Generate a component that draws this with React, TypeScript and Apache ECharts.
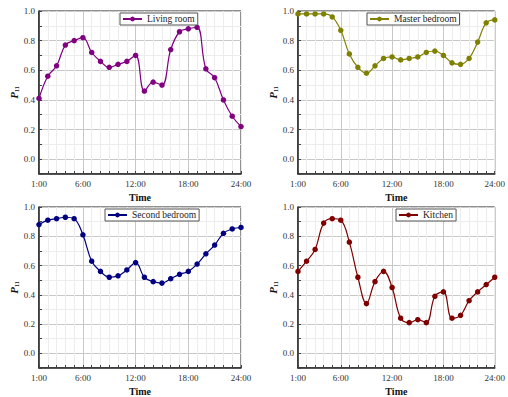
import React, { useEffect, useRef } from "react";
import * as echarts from "echarts";

const hours = [1, 2, 3, 4, 5, 6, 7, 8, 9, 10, 11, 12, 13, 14, 15, 16, 17, 18, 19, 20, 21, 22, 23, 24];
const xTickLabels = [1, 6, 12, 18, 24];
const yTickLabels = [0, 0.2, 0.4, 0.6, 0.8, 1.0];

const roomNames = ["Living room", "Master bedroom", "Second bedroom", "Kitchen"];
const livingRoom = [0.41, 0.56, 0.63, 0.77, 0.8, 0.82, 0.72, 0.66, 0.62, 0.64, 0.66, 0.7, 0.46, 0.52, 0.5, 0.74, 0.86, 0.88, 0.89, 0.61, 0.55, 0.4, 0.29, 0.22];
const masterBedroom = [0.98, 0.98, 0.98, 0.98, 0.96, 0.87, 0.71, 0.62, 0.58, 0.63, 0.68, 0.69, 0.67, 0.68, 0.69, 0.72, 0.73, 0.7, 0.65, 0.64, 0.68, 0.79, 0.92, 0.94];
const secondBedroom = [0.88, 0.91, 0.92, 0.93, 0.92, 0.81, 0.63, 0.56, 0.52, 0.53, 0.57, 0.62, 0.52, 0.49, 0.48, 0.51, 0.54, 0.56, 0.61, 0.68, 0.74, 0.82, 0.85, 0.86];
const kitchen = [0.56, 0.63, 0.71, 0.89, 0.92, 0.91, 0.76, 0.52, 0.34, 0.49, 0.56, 0.45, 0.24, 0.21, 0.23, 0.21, 0.39, 0.42, 0.24, 0.26, 0.36, 0.42, 0.47, 0.52];
const roomValues = [livingRoom, masterBedroom, secondBedroom, kitchen];
const colors = ["#800080", "#808000", "#000080", "#800000"];

const grids = [
  { left: 39, top: 11 },
  { left: 298, top: 11 },
  { left: 39, top: 207 },
  { left: 298, top: 207 },
];
const legendPos = [
  { left: 120, top: 13 },
  { left: 367, top: 13 },
  { left: 105, top: 209 },
  { left: 396, top: 209 },
];

const FONT = "Liberation Serif";

export default function App() {
  const ref = useRef<HTMLDivElement>(null);
  useEffect(() => {
    if (!ref.current) return;
    const chart = echarts.init(ref.current, undefined, { renderer: "svg" });
    const xSplitColors = hours.map((h) => (h === 6 || h === 12 || h === 18 ? "#c8c8c8" : "#ececec"));
    const option: any = {
      animation: false,
      backgroundColor: "#ffffff",
      textStyle: { fontFamily: FONT },
      grid: grids.map((g) => ({
        left: g.left,
        top: g.top,
        width: 202,
        height: 163,
        show: true,
        borderColor: "#222",
        borderWidth: 1,
        backgroundColor: "transparent",
      })),
      legend: roomNames.map((n, i) => ({
        data: [n],
        left: legendPos[i].left,
        top: legendPos[i].top,
        orient: "horizontal",
        borderColor: "#555",
        borderWidth: 1,
        padding: [1, 3, 1, 2],
        itemWidth: 19,
        itemHeight: 6,
        itemGap: 4,
        textStyle: { fontFamily: FONT, fontSize: 9.5, color: "#222" },
        backgroundColor: "#fff",
      })),
      xAxis: grids.map((_, i) => ({
        type: "value",
        gridIndex: i,
        min: 1,
        max: 24,
        interval: 1,
        name: "Time",
        nameLocation: "middle",
        nameGap: 18,
        nameTextStyle: { fontFamily: FONT, fontSize: 10, fontWeight: "bold", color: "#111" },
        axisLine: { show: true, onZero: false, lineStyle: { color: "#222", width: 1.5 } },
        axisTick: { show: true, inside: true, length: 3, lineStyle: { color: "#444" } },
        axisLabel: {
          fontFamily: FONT,
          fontSize: 9,
          color: "#333",
          margin: 5,
          showMinLabel: true,
          showMaxLabel: true,
          formatter: (v: number) => (xTickLabels.indexOf(Math.round(v)) >= 0 ? `${Math.round(v)}:00` : ""),
        },
        splitLine: { show: true, lineStyle: { color: xSplitColors, width: 1 } },
      })),
      yAxis: grids.map((_, i) => ({
        type: "value",
        gridIndex: i,
        min: -0.1,
        max: 1.0,
        interval: 0.1,
        name: "{p|P}{s|11}",
        nameLocation: "middle",
        nameGap: 16,
        nameRotate: 90,
        nameTextStyle: {
          fontFamily: FONT,
          color: "#111",
          rich: {
            p: { fontFamily: FONT, fontSize: 11, fontWeight: "bold", fontStyle: "italic", color: "#111" },
            s: { fontFamily: FONT, fontSize: 6, fontWeight: "bold", color: "#111", verticalAlign: "bottom", padding: [4, 0, 0, 0] },
          },
        },
        axisLine: { show: true, onZero: false, lineStyle: { color: "#222", width: 1.5 } },
        axisTick: { show: true, inside: true, length: 3, lineStyle: { color: "#444" } },
        axisLabel: {
          fontFamily: FONT,
          fontSize: 9,
          color: "#333",
          margin: 4,
          formatter: (v: number) => {
            const r = Math.round(v * 10);
            const match = yTickLabels.some((t) => Math.round(t * 10) === r);
            return match ? (r / 10).toFixed(1) : "";
          },
        },
        splitLine: { show: true, lineStyle: { color: ["#ececec", "#c8c8c8"], width: 1 } },
      })),
      series: roomNames.map((n, i) => ({
        name: n,
        type: "line",
        xAxisIndex: i,
        yAxisIndex: i,
        smooth: 0.4,
        symbol: "circle",
        symbolSize: 5.5,
        lineStyle: { color: colors[i], width: 1.2 },
        itemStyle: { color: colors[i] },
        data: hours.map((h, k) => [h, roomValues[i][k]]),
      })),
    };
    chart.setOption(option);
    return () => chart.dispose();
  }, []);
  return <div ref={ref} style={{ position: "fixed", left: 0, top: 0, width: 508, height: 397 }} />;
}
